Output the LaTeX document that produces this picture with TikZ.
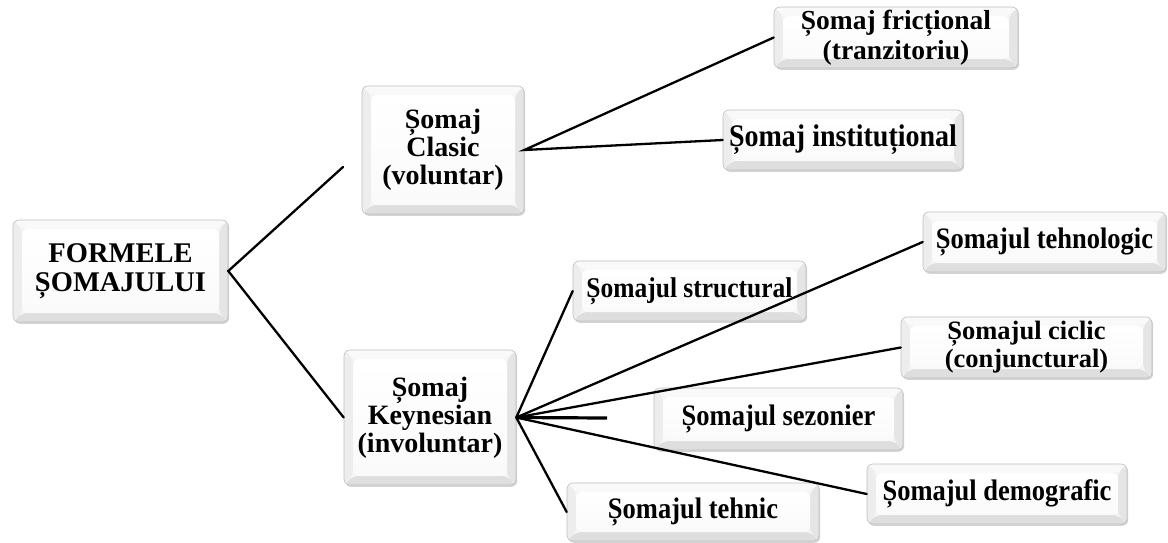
\documentclass[tikz,border=0pt]{standalone}
\usepackage{fontspec}
\setmainfont{Liberation Serif}
\usetikzlibrary{shadows}
\newcommand\myfs[2]{\fontsize{#1}{#2}\selectfont\bfseries}
\newcommand\vs[1]{\scalebox{1}[1.12]{#1}}
\tikzset{
  bx/.style={draw=gray!50, line width=0.6pt, rounded corners=6pt, fill=gray!8,
    align=center, inner sep=0pt,
    drop shadow={shadow xshift=1.2pt, shadow yshift=-1.8pt, opacity=0.35},
    path picture={
      \coordinate (pnw) at (path picture bounding box.north west);
      \coordinate (pne) at (path picture bounding box.north east);
      \coordinate (pse) at (path picture bounding box.south east);
      \coordinate (psw) at (path picture bounding box.south west);
      \coordinate (inw) at ([shift={(9pt,-9pt)}]pnw);
      \coordinate (ine) at ([shift={(-9pt,-9pt)}]pne);
      \coordinate (ise) at ([shift={(-9pt,9pt)}]pse);
      \coordinate (isw) at ([shift={(9pt,9pt)}]psw);
      \fill[gray!5] (pnw) -- (pne) -- (ine) -- (inw) -- cycle;
      \fill[gray!14] (pnw) -- (psw) -- (isw) -- (inw) -- cycle;
      \fill[gray!20] (pne) -- (pse) -- (ise) -- (ine) -- cycle;
      \fill[gray!26] (psw) -- (pse) -- (ise) -- (isw) -- cycle;
      \shade[top color=white, bottom color=gray!4] (inw) rectangle (ise);
    }},
  conn/.style={line width=2.3pt, black, line cap=round},
}
\begin{document}
\begin{tikzpicture}[x=1pt, y=-1pt]
\useasboundingbox (0,0) rectangle (1168,542);

\node[bx, minimum width=215pt, minimum height=102pt, font=\myfs{28.5}{28.5}] (formele) at (120.5,271) {FORMELE\\ȘOMAJULUI};
\node[bx, minimum width=162pt, minimum height=128pt, font=\myfs{28}{28}] (clasic) at (443,150) {Șomaj\\Clasic\\(voluntar)};
\node[bx, minimum width=172pt, minimum height=135pt, font=\myfs{28}{28}] (keyn) at (430,417.5) {Șomaj\\Keynesian\\(involuntar)};

\node[bx, minimum width=244pt, minimum height=61pt, font=\myfs{27.5}{30}] (frict) at (896,37.5) {Șomaj fricțional\\(tranzitoriu)};
\node[bx, minimum width=240pt, minimum height=60pt, font=\myfs{28}{28}] (instit) at (843,140) {\vs{Șomaj instituțional}};

\node[bx, minimum width=243pt, minimum height=60pt, font=\myfs{26.5}{28}] (tehnolog) at (1044.5,242) {\vs{Șomajul tehnologic}};
\node[bx, minimum width=233pt, minimum height=60pt, font=\myfs{25.5}{28}] (struct) at (689.5,291) {\vs{Șomajul structural}};
\node[bx, minimum width=251pt, minimum height=61pt, font=\myfs{26.5}{28}] (ciclic) at (1026.5,347.5) {Șomajul ciclic\\(conjunctural)};
\node[bx, minimum width=249pt, minimum height=62pt, font=\myfs{26.5}{28}] (sezon) at (778.5,419) {\vs{Șomajul sezonier}};
\node[bx, minimum width=260pt, minimum height=60pt, font=\myfs{26.5}{28}] (demog) at (997,494) {\vs{Șomajul demografic}};
\node[bx, minimum width=252pt, minimum height=58pt, font=\myfs{26.5}{28}] (tehnic) at (693,512) {\vs{Șomajul tehnic}};

\coordinate (c1) at (343,167);
\coordinate (stub) at (607,418);

\draw[conn] (c1) -- (formele.east) -- (keyn.west);
\draw[conn] (frict.west) -- (clasic.east) -- (instit.west);
\draw[conn] (keyn.east) -- (struct.west);
\draw[conn] (keyn.east) -- (tehnolog.west);
\draw[conn] (keyn.east) -- (ciclic.west);
\draw[line width=3.2pt] (keyn.east) -- (stub);
\draw[conn] (keyn.east) -- (demog.west);
\draw[conn] (keyn.east) -- (tehnic.west);
\end{tikzpicture}
\end{document}
